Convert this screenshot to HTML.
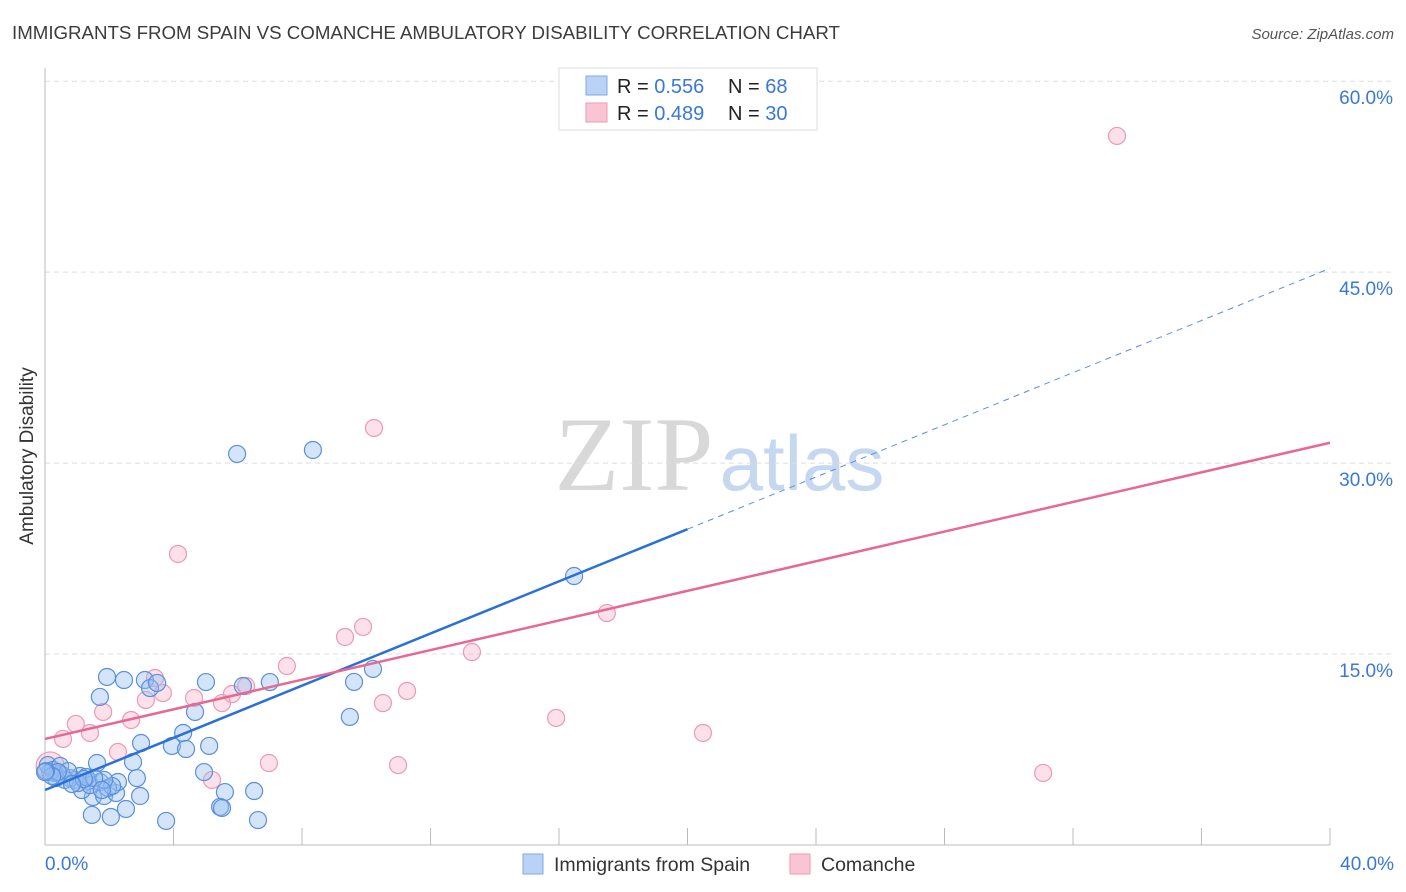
<!DOCTYPE html>
<html><head><meta charset="utf-8"><style>
body{margin:0;background:#fff;font-family:"Liberation Sans",sans-serif;}
svg{display:block}
</style></head><body>
<svg id="chart" width="1406" height="892" xmlns="http://www.w3.org/2000/svg">
<text x="12" y="39" font-size="18.7" fill="#3c3c3c">IMMIGRANTS FROM SPAIN VS COMANCHE AMBULATORY DISABILITY CORRELATION CHART</text>
<text x="1394" y="39" font-size="15" fill="#555" font-style="italic" text-anchor="end">Source: ZipAtlas.com</text>
<text x="33" y="456" font-size="19" fill="#333" text-anchor="middle" transform="rotate(-90 33 456)">Ambulatory Disability</text>
<g>
<text x="634" y="490" font-size="106" font-family="Liberation Serif,serif" fill="#d8d8d8" text-anchor="middle">ZIP</text>
<text x="802" y="490" font-size="78" fill="#c6d8f0" text-anchor="middle">atlas</text>
</g>
<g id="grid"></g>
<g id="axes"></g>
<g id="marks"></g>
<g>
<rect x="559" y="68" width="258" height="62" fill="#fff" stroke="#ddd"/>
<rect x="586" y="76" width="21" height="19" fill="#b9d2f5" stroke="#7ea8e6"/>
<rect x="586" y="103" width="21" height="19" fill="#f9c5d4" stroke="#ee9ab5"/>
<text x="617" y="93" font-size="20" fill="#222">R = <tspan fill="#3a78d8">0.556</tspan></text>
<text x="728" y="93" font-size="20" fill="#222">N = <tspan fill="#3a78d8"> 68</tspan></text>
<text x="617" y="120" font-size="20" fill="#222">R = <tspan fill="#3a78d8">0.489</tspan></text>
<text x="728" y="120" font-size="20" fill="#222">N = <tspan fill="#3a78d8">30</tspan></text>
</g>
<g>
<rect x="523" y="854" width="20" height="20" fill="#b9d2f5" stroke="#7ea8e6"/>
<text x="554" y="871" font-size="19.5" fill="#333">Immigrants from Spain</text>
<rect x="790" y="854" width="20" height="20" fill="#f9c5d4" stroke="#ee9ab5"/>
<text x="821" y="871" font-size="19.5" fill="#333">Comanche</text>
</g>
</svg>
<script>
const yTicks=[15,30,45,60];
const yTickLabels=["15.0%","30.0%","45.0%","60.0%"];
const xEndLabels=["0.0%","40.0%"];
const spainX=[5.98,8.34,16.47,10.21,9.62,9.49,1.93,2.46,3.11,3.27,3.49,5.01,7.00,6.16,1.71,4.67,4.30,3.95,4.39,5.11,2.99,1.62,2.74,2.86,4.95,5.60,6.51,5.45,5.51,2.52,1.46,2.05,3.77,6.63,2.96,1.49,1.84,2.21,2.27,1.71,1.96,1.34,1.09,0.93,0.78,0.53,0.31,0.16,0.09,0.25,0.47,0.62,1.15,1.40,2.09,1.84,0.34,0.72,1.03,1.28,1.53,1.21,0.40,0.22,0.03,0.84,1.77,0.0];
const spainY=[30.72,31.03,21.13,13.83,12.81,10.06,13.20,12.96,12.96,12.33,12.73,12.80,12.80,12.49,11.63,10.45,8.80,7.78,7.54,7.78,8.01,6.44,6.52,5.26,5.73,4.16,4.24,2.99,2.91,2.83,2.36,2.20,1.89,1.96,3.85,3.77,3.85,4.08,4.95,4.95,4.48,5.03,5.42,5.11,5.26,5.50,5.66,5.73,6.28,5.89,6.21,5.11,4.32,4.71,4.63,5.11,5.26,5.81,4.87,5.34,5.26,5.18,5.73,5.42,5.81,4.79,4.32,5.73];
const comX=[33.37,10.24,4.14,9.90,9.34,17.49,13.29,7.53,11.27,10.52,15.91,20.48,31.07,10.99,6.97,5.20,2.27,2.68,1.81,0.96,1.40,0.56,3.42,3.67,3.14,4.64,5.82,6.26,5.51,0.16];
const comY=[55.70,32.76,22.86,17.13,16.34,18.22,15.16,14.06,12.10,11.15,9.98,8.80,5.66,6.28,6.44,5.11,7.31,9.82,10.45,9.51,8.80,8.33,13.12,11.94,11.39,11.55,11.86,12.49,11.15,6.21];
const spainTrend=[4.32,45.3];
const comTrend=[8.33,31.6];
const spainSolidEnd=20.0;

const X=v=>45+v/40*1285, Y=v=>845-v*12.73;
const NS="http://www.w3.org/2000/svg";
function mk(tag,attrs,parent){const e=document.createElementNS(NS,tag);for(const k in attrs)e.setAttribute(k,attrs[k]);document.getElementById(parent).appendChild(e);return e;}
yTicks.forEach((t,i)=>{
  const g=mk('line',{x1:45,x2:1395,y1:Y(t),y2:Y(t),stroke:'#ddd','stroke-dasharray':'5,4'},'grid');
  
  
  const l=mk('text',{x:1393,y:Y(t)+23,'font-size':19,fill:'#3a78d8','text-anchor':'end'},'axes');
  l.textContent=yTickLabels[i];
  
  
});
let a=mk('line',{x1:45,x2:45,y1:68,y2:845,stroke:'#bbb'},'axes');


a=mk('line',{x1:45,x2:1330,y1:845,y2:845,stroke:'#bbb'},'axes');


for(let i=1;i<=10;i++){const t=mk('line',{x1:X(i*4),x2:X(i*4),y1:828,y2:845,stroke:'#bbb'},'axes');
  
  }
[[0,'start',45],[40,'end',1394]].forEach((d,i)=>{const t=mk('text',{x:d[2],y:870,'font-size':19,fill:'#3a78d8','text-anchor':d[1]},'axes');t.textContent=xEndLabels[i];
  
  });
comX.forEach((x,i)=>{const c=mk('circle',{cx:X(x),cy:Y(comY[i]),r:i==29?14:8.5,fill:'rgba(245,170,195,0.35)',stroke:'#ec9ab4','stroke-width':1.2},'marks');
  
  });
spainX.forEach((x,i)=>{const c=mk('circle',{cx:X(x),cy:Y(spainY[i]),r:8.5,fill:'rgba(150,190,240,0.4)',stroke:'#5a8fdc','stroke-width':1.2},'marks');
  
  });
const sy=x=>spainTrend[0]+(spainTrend[1]-spainTrend[0])*x/40;
let l=mk('line',{x1:X(0),y1:Y(sy(0)),x2:X(spainSolidEnd),y2:Y(sy(spainSolidEnd)),stroke:'#2a70d8','stroke-width':2.5},'marks');


l=mk('line',{x1:X(spainSolidEnd),y1:Y(sy(spainSolidEnd)),x2:X(40),y2:Y(sy(40)),stroke:'#5a8fdc','stroke-width':1,'stroke-dasharray':'6,5'},'marks');


l=mk('line',{x1:X(0),y1:Y(comTrend[0]),x2:X(40),y2:Y(comTrend[1]),stroke:'#e86892','stroke-width':2.5},'marks');


</script>
</body></html>
